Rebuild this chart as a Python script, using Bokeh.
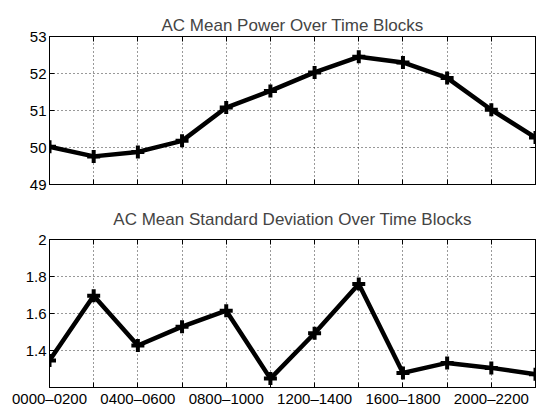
from bokeh.plotting import figure
from bokeh.layouts import column
from bokeh.models import FixedTicker, Range1d, LinearAxis
from bokeh.embed import file_html
from bokeh.resources import INLINE

blocks = ["0000–0200", "0200–0400", "0400–0600", "0600–0800", "0800–1000", "1000–1200",
          "1200–1400", "1400–1600", "1600–1800", "1800–2000", "2000–2200", "2200–2400"]
shown_labels = ["0000–0200", "0400–0600", "0800–1000", "1200–1400", "1600–1800", "2000–2200"]
mean_power = [50.02, 49.76, 49.88, 50.18, 51.08, 51.53, 52.03, 52.45, 52.30, 51.88, 51.02, 50.27]
mean_std = [1.346, 1.696, 1.427, 1.529, 1.615, 1.248, 1.493, 1.759, 1.279, 1.333, 1.306, 1.272]
power_ticks = [49, 50, 51, 52, 53]
std_ticks = [1.4, 1.6, 1.8, 2.0]

FONT = "Liberation Sans"
x = list(range(1, len(blocks) + 1))


def style_axis(ax, ticks, size="15px"):
    ax.ticker = FixedTicker(ticks=ticks)
    ax.major_tick_in = 5
    ax.major_tick_out = 0
    ax.minor_tick_line_color = None
    ax.axis_line_color = "black"
    ax.major_tick_line_color = "black"
    ax.major_label_text_font = FONT
    ax.major_label_text_font_size = size
    ax.major_label_text_color = "black"


def make(title, y, yrange, yticks, show_x, top, bottom, title_standoff):
    p = figure(frame_width=486, frame_height=148, output_backend="svg", toolbar_location=None,
               x_range=Range1d(1, 12), y_range=Range1d(*yrange), title=title,
               min_border_left=49, min_border_right=8, min_border_top=top, min_border_bottom=bottom)
    p.title.text_font = FONT
    p.title.text_font_size = "17px"
    p.title.text_font_style = "normal"
    p.title.align = "center"
    p.title.standoff = title_standoff
    p.outline_line_color = "black"
    p.outline_line_width = 1
    p.outline_line_alpha = 1
    style_axis(p.xaxis[0], x)
    style_axis(p.yaxis[0], yticks)
    if show_x:
        overrides = {}
        for i, b in enumerate(blocks):
            overrides[i + 1] = b if b in shown_labels else ""
        p.xaxis.major_label_overrides = overrides
    else:
        p.xaxis.major_label_overrides = {i: "" for i in x}
    p.yaxis.major_label_overrides = {t: ("%g" % t) for t in yticks}
    p.xaxis.major_label_standoff = 2
    p.yaxis.major_label_standoff = 3

    right = LinearAxis()
    style_axis(right, yticks, "0px")
    right.major_label_overrides = {t: "" for t in yticks}
    right.major_label_standoff = 0
    p.add_layout(right, "right")
    above = LinearAxis()
    style_axis(above, x, "0px")
    above.major_label_overrides = {t: "" for t in x}
    above.major_label_standoff = 0
    p.add_layout(above, "above")

    for g in (p.xgrid, p.ygrid):
        g.grid_line_color = "black"
        g.grid_line_dash = "1 3"
        g.grid_line_width = 1
        g.grid_line_alpha = 0.8
    p.background_fill_color = "white"
    p.border_fill_color = "white"
    p.line(x, y, line_color="black", line_width=4.5)
    p.scatter(x, y, marker="cross", size=13, line_color="black", line_width=4)
    return p


p1 = make("AC Mean Power Over Time Blocks", mean_power, (49, 53), power_ticks, False, 36, 8, 4)
p2 = make("AC Mean Standard Deviation Over Time Blocks", mean_std, (1.2, 2.0), std_ticks, True, 47, 21, 22)

layout = column(p1, p2, spacing=0)
open("out.html", "w").write(file_html(layout, INLINE))
